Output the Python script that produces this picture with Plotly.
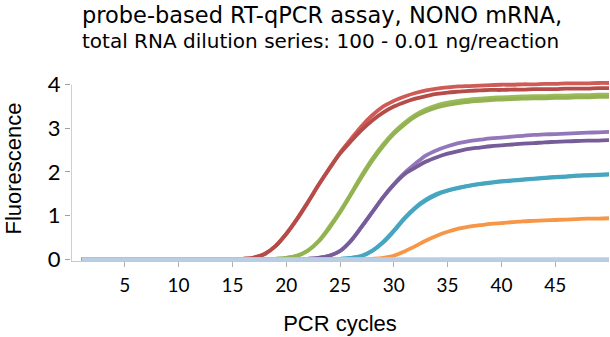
import plotly.graph_objects as go

cycles = list(range(1, 51))

base15 = [0.0] * 15
red_a = base15 + [0.01, 0.04, 0.12, 0.30, 0.58, 0.92, 1.30, 1.70, 2.08, 2.44,
                  2.75, 3.05, 3.30, 3.50, 3.63, 3.73, 3.81, 3.87, 3.91, 3.94,
                  3.96, 3.97, 3.98, 3.99, 4.00, 4.00, 4.01, 4.01, 4.02, 4.02,
                  4.03, 4.03, 4.03, 4.04, 4.04]
red_b = base15 + [0.01, 0.04, 0.12, 0.30, 0.58, 0.92, 1.30, 1.70, 2.07, 2.42,
                  2.70, 2.96, 3.18, 3.36, 3.50, 3.60, 3.68, 3.74, 3.79, 3.82,
                  3.84, 3.86, 3.87, 3.88, 3.88, 3.89, 3.89, 3.90, 3.90, 3.90,
                  3.91, 3.91, 3.91, 3.92, 3.92]
base18 = [0.0] * 18
green_a = base18 + [0.01, 0.03, 0.08, 0.20, 0.42, 0.74, 1.10, 1.50, 1.92, 2.30,
                    2.63, 2.91, 3.13, 3.31, 3.44, 3.53, 3.59, 3.63, 3.66, 3.68,
                    3.70, 3.71, 3.72, 3.73, 3.74, 3.74, 3.75, 3.75, 3.76, 3.76,
                    3.77, 3.77]
green_b = base18 + [0.01, 0.03, 0.08, 0.19, 0.40, 0.71, 1.07, 1.47, 1.88, 2.26,
                    2.59, 2.87, 3.09, 3.27, 3.39, 3.48, 3.54, 3.58, 3.61, 3.63,
                    3.65, 3.66, 3.67, 3.68, 3.69, 3.69, 3.70, 3.70, 3.71, 3.71,
                    3.72, 3.72]
base21 = [0.0] * 21
purple_a = base21 + [0.01, 0.03, 0.08, 0.19, 0.42, 0.74, 1.08, 1.42, 1.72, 1.98,
                     2.19, 2.38, 2.50, 2.59, 2.66, 2.71, 2.74, 2.77, 2.79, 2.81,
                     2.83, 2.85, 2.86, 2.87, 2.88, 2.89, 2.90, 2.91, 2.92]
purple_b = base21 + [0.01, 0.03, 0.08, 0.19, 0.42, 0.74, 1.08, 1.42, 1.71, 1.95,
                     2.10, 2.24, 2.34, 2.42, 2.48, 2.53, 2.56, 2.59, 2.61, 2.63,
                     2.65, 2.66, 2.68, 2.69, 2.70, 2.71, 2.72, 2.72, 2.73]
base24 = [0.0] * 24
cyan_a = base24 + [0.01, 0.03, 0.08, 0.20, 0.40, 0.66, 0.95, 1.19, 1.37, 1.50,
                   1.58, 1.64, 1.69, 1.73, 1.76, 1.79, 1.81, 1.83, 1.85, 1.87,
                   1.89, 1.90, 1.92, 1.93, 1.94, 1.95]
cyan_b = base24 + [0.01, 0.03, 0.07, 0.19, 0.38, 0.64, 0.93, 1.17, 1.35, 1.48,
                   1.57, 1.63, 1.68, 1.72, 1.75, 1.78, 1.80, 1.82, 1.84, 1.86,
                   1.88, 1.89, 1.91, 1.92, 1.93, 1.94]
base27 = [0.0] * 27
orange = base27 + [0.01, 0.03, 0.08, 0.18, 0.30, 0.43, 0.54, 0.63, 0.70, 0.75,
                   0.78, 0.81, 0.83, 0.85, 0.87, 0.88, 0.89, 0.90, 0.91, 0.92,
                   0.93, 0.93, 0.94]
ntc = [0.0] * 50

series = [
    ("100 ng", red_a, "#CF5B57"),
    ("100 ng (rep)", red_b, "#B54C49"),
    ("10 ng", green_a, "#9BBB59"),
    ("10 ng (rep)", green_b, "#93B353"),
    ("1 ng", purple_a, "#9278BA"),
    ("1 ng (rep)", purple_b, "#765C98"),
    ("0.1 ng", cyan_a, "#4BACC6"),
    ("0.1 ng (rep)", cyan_b, "#46A5BF"),
    ("0.01 ng", orange, "#F79646"),
    ("NTC", ntc, "#B9CDE5"),
]

x_ticks = [5, 10, 15, 20, 25, 30, 35, 40, 45]
y_ticks = [0, 1, 2, 3, 4]

fig = go.Figure()
for name, vals, col in series:
    fig.add_trace(go.Scatter(x=cycles, y=vals, mode="lines", name=name,
                             line=dict(color=col, width=3.8, shape="spline")))

fig.update_layout(
    width=610, height=337,
    margin=dict(l=71, r=1, t=76, b=76),
    paper_bgcolor="white", plot_bgcolor="white",
    showlegend=False,
    xaxis=dict(range=[0, 50], tickvals=x_ticks, showgrid=False, zeroline=False,
               showline=True, linecolor="#C8C8C8", linewidth=1,
               ticks="outside", ticklen=5, tickcolor="#B0B0B0",
               tickfont=dict(family="Lato", size=19, color="black"),
               ticklabelstandoff=2,
               title=dict(text="PCR cycles", standoff=20,
                          font=dict(family="Liberation Sans", size=22, color="black"))),
    yaxis=dict(range=[-0.04, 4.2], tickvals=y_ticks, showgrid=False, zeroline=False,
               showline=False,
               ticks="outside", ticklen=5, tickcolor="#A0A0A0",
               tickfont=dict(family="Lato", size=22, color="black"),
               title=dict(text="Fluorescence", standoff=20,
                          font=dict(family="Liberation Sans", size=22, color="black"))),
    shapes=[dict(type="line", xref="x", yref="y", x0=0, x1=0, y0=-0.04, y1=4,
                 line=dict(color="#A0A0A0", width=1))],
    annotations=[
        dict(text="probe-based RT-qPCR assay, NONO mRNA,", xref="paper", yref="paper",
             x=(80 - 71) / 538, y=1 + (76 - 15) / 185, xanchor="left", yanchor="middle",
             showarrow=False, font=dict(family="DejaVu Sans", size=22.5, color="black")),
        dict(text="total RNA dilution series: 100 - 0.01 ng/reaction", xref="paper", yref="paper",
             x=(80 - 71) / 538, y=1 + (76 - 41) / 185, xanchor="left", yanchor="middle",
             showarrow=False, font=dict(family="DejaVu Sans", size=20, color="black")),
    ],
)

fig.write_html("out.html")
